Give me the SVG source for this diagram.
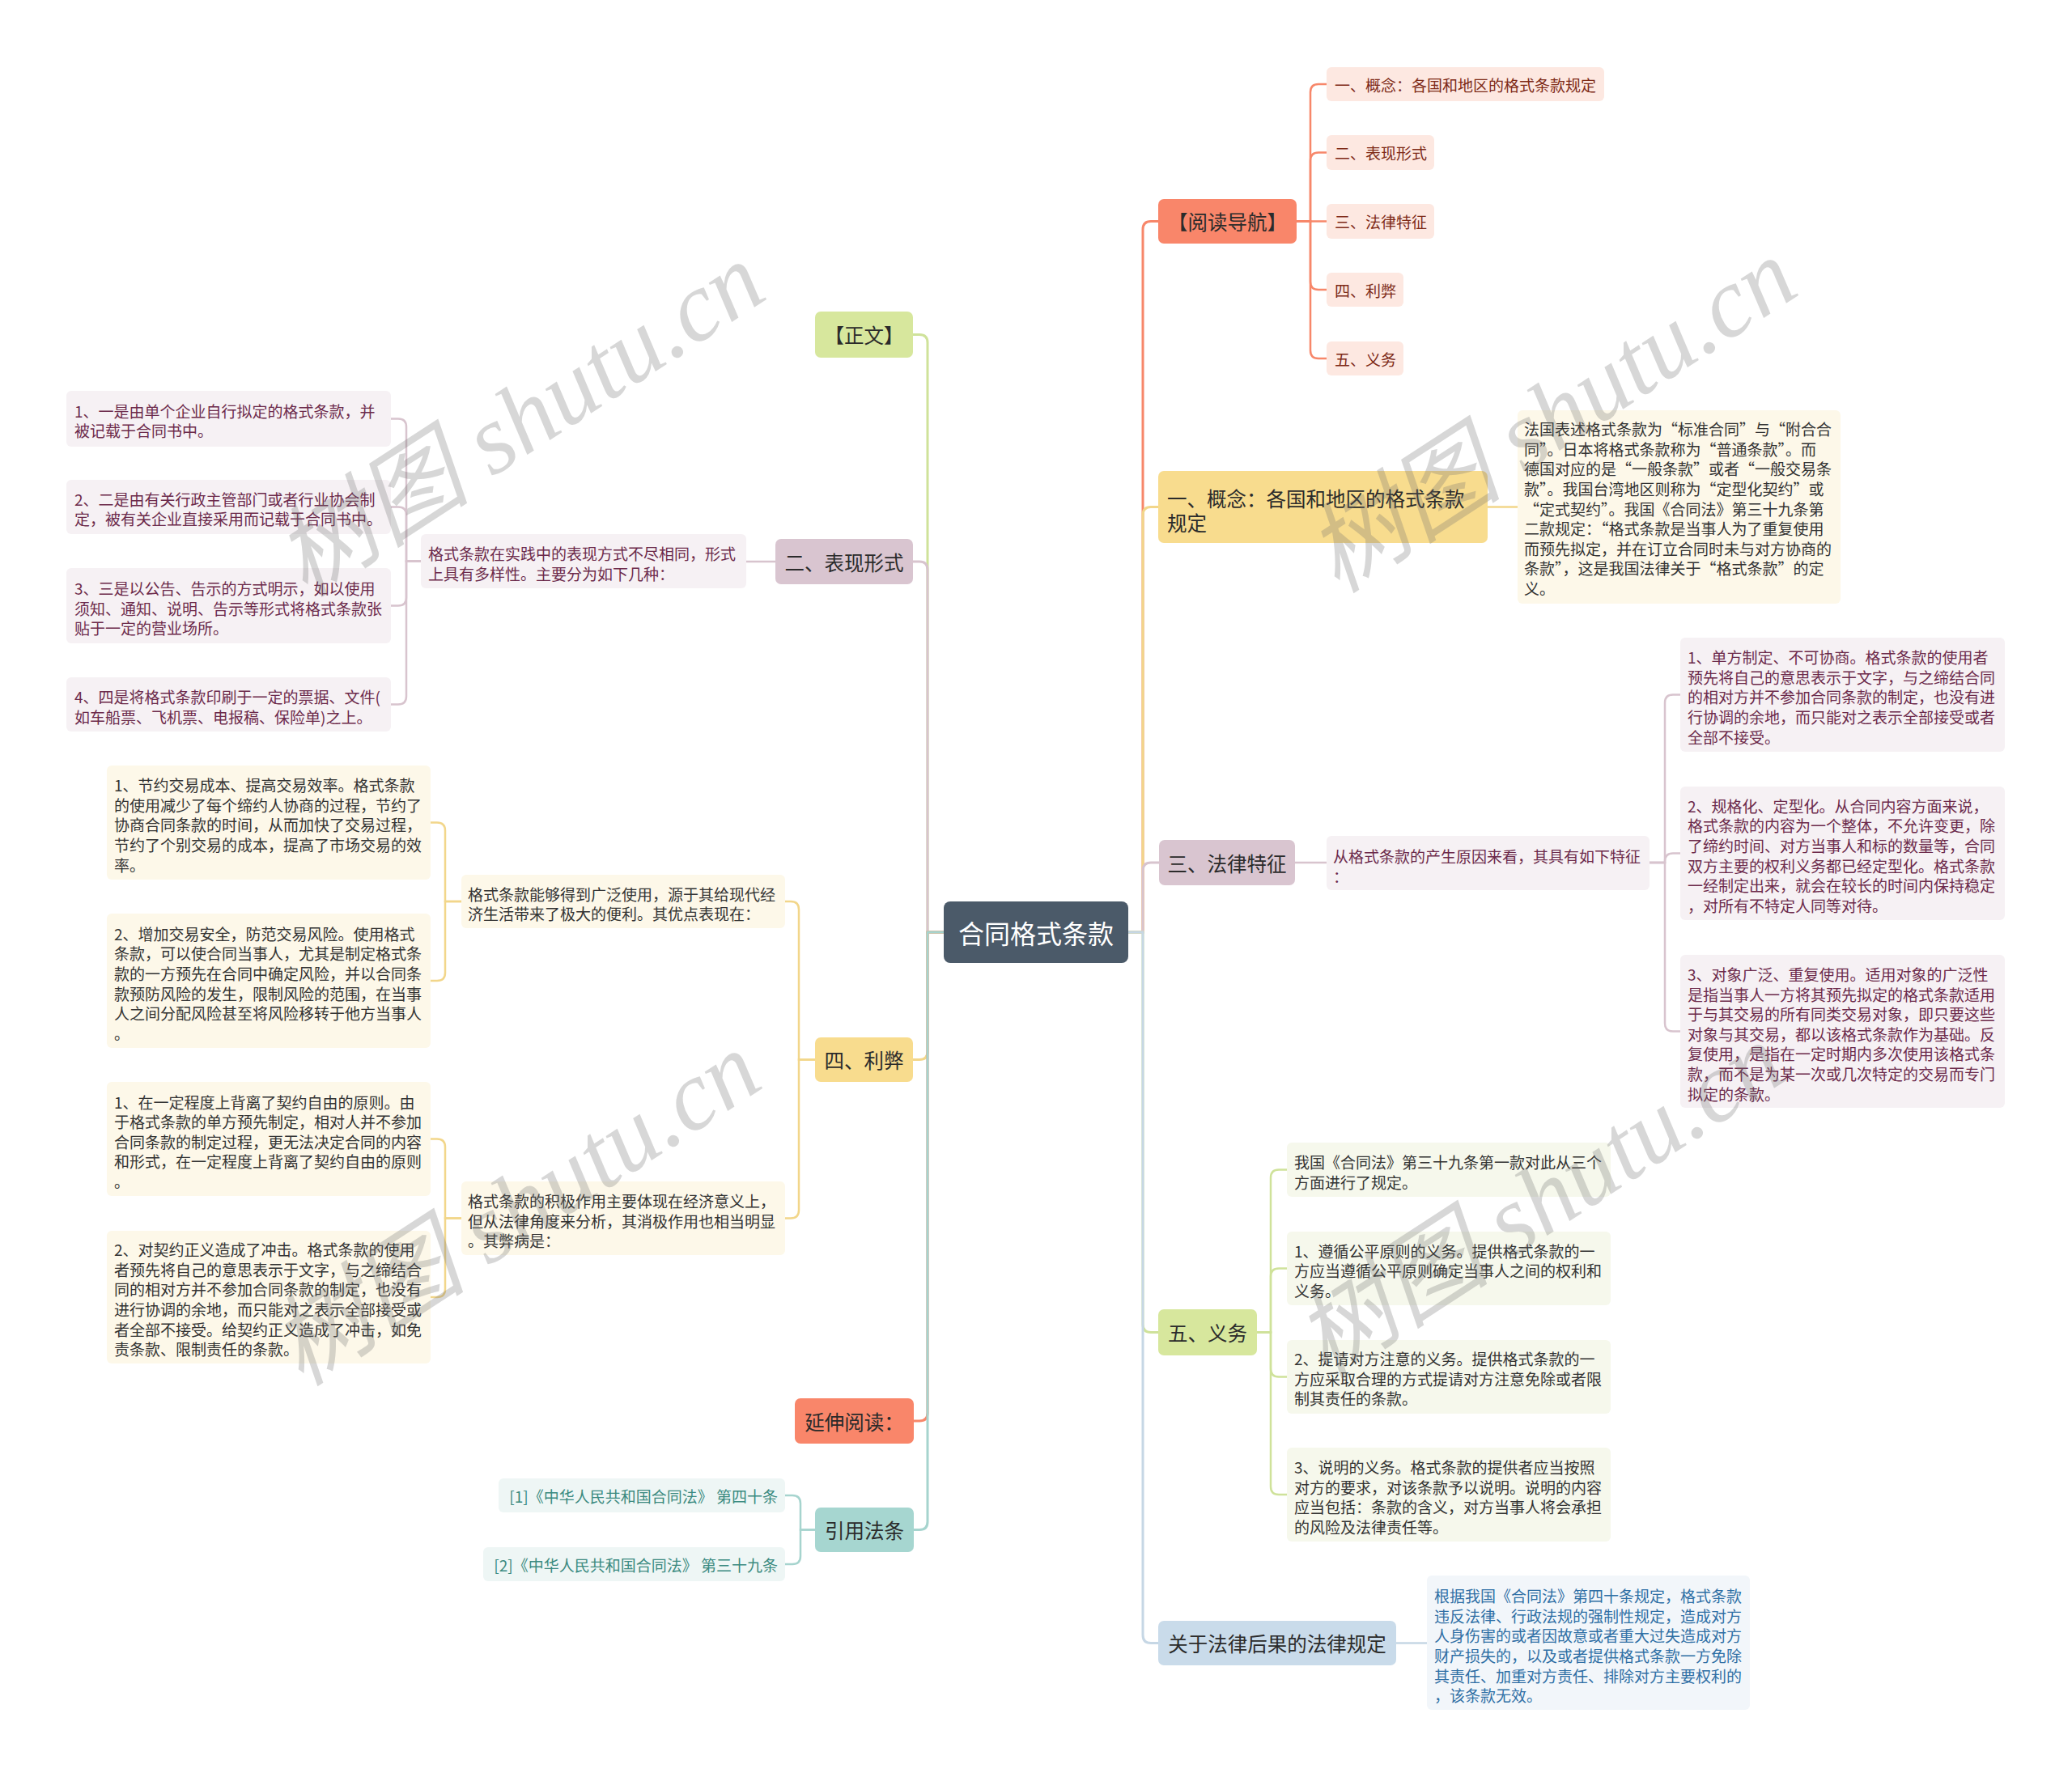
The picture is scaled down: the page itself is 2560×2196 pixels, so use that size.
<svg xmlns="http://www.w3.org/2000/svg" width="2560" height="2196" viewBox="0 0 2560 2196">
<style>
text{font-family:"Noto Sans CJK SC","Noto Sans",sans-serif;dominant-baseline:central}
.m{font-size:24.5px;fill:#2b2b2b}
.mc{text-anchor:middle}
.d{font-size:19px}
.c{font-size:32px;fill:#fff;text-anchor:middle}
.ln{fill:none;stroke-width:3}
.sl{fill:none;stroke-width:2.5}
.or{stroke:#f7876a}.ye{stroke:#f2d68a}.mv{stroke:#d8c4ce}.gr{stroke:#cfe29a}.bl{stroke:#c6d7e5}.tl{stroke:#a6d4ce}
.fOr{fill:#f9866a}.fOrL{fill:#fde8e1}.tOr{fill:#7e2a17}
.fYe{fill:#f8dc8e}.fYeL{fill:#fdf8e9}.tYe{fill:#333}
.fMv{fill:#d9c5d0}.fMvL{fill:#f6f1f4}.tMv{fill:#6c2a4b}
.fGr{fill:#d7e79d}.fGrL{fill:#f6f8ec}.tGr{fill:#333}
.fBl{fill:#c9dbea}.fBlL{fill:#f2f6fa}.tBl{fill:#2f6fa5}
.fTl{fill:#a6d6d0}.fTlL{fill:#eef6f5}.tTl{fill:#3b8a80}
.wm{font-family:"Liberation Serif","Noto Sans CJK SC",serif;font-style:italic;font-size:122px;fill:#6f6f6f;fill-opacity:0.28}
</style>
<rect width="2560" height="2196" fill="#ffffff"/>

<g id="connectors">
<path class="ln or" d="M1394,1152 H1412 V283.5 Q1412,273.5 1422,273.5 H1431"/>
<path class="ln ye" d="M1394,1152 H1412 V636.5 Q1412,626.5 1422,626.5 H1431"/>
<path class="ln mv" d="M1394,1152 H1412 V1076 Q1412,1066 1422,1066 H1432"/>
<path class="ln gr" d="M1394,1152 H1412 V1636.5 Q1412,1646.5 1422,1646.5 H1431"/>
<path class="ln bl" d="M1394,1152 H1412 V2020.5 Q1412,2030.5 1422,2030.5 H1431"/>
<path class="ln gr" d="M1166,1152 H1146 V423.5 Q1146,413.5 1136,413.5 H1128"/>
<path class="ln mv" d="M1166,1152 H1146 V704 Q1146,694 1136,694 H1128"/>
<path class="ln ye" d="M1166,1152 H1146 V1299.5 Q1146,1309.5 1136,1309.5 H1128"/>
<path class="ln or" d="M1166,1152 H1146 V1746 Q1146,1756 1136,1756 H1129"/>
<path class="ln tl" d="M1166,1152 H1146 V1880.5 Q1146,1890.5 1136,1890.5 H1129"/>
<path class="sl or" d="M1602,273.5 H1619 V114 Q1619,104 1629,104 H1639"/>
<path class="sl or" d="M1602,273.5 H1619 V198.5 Q1619,188.5 1629,188.5 H1639"/>
<path class="sl or" d="M1602,273.5 H1639"/>
<path class="sl or" d="M1602,273.5 H1619 V348 Q1619,358 1629,358 H1639"/>
<path class="sl or" d="M1602,273.5 H1619 V433 Q1619,443 1629,443 H1639"/>
<path class="sl ye" d="M1838,626.5 H1875"/>
<path class="sl mv" d="M1600,1066 H1639"/>
<path class="sl mv" d="M2038,1066 H2057 V868.5 Q2057,858.5 2067,858.5 H2076"/>
<path class="sl mv" d="M2038,1066 H2057 V1064.5 Q2057,1054.5 2067,1054.5 H2076"/>
<path class="sl mv" d="M2038,1066 H2057 V1264.5 Q2057,1274.5 2067,1274.5 H2076"/>
<path class="sl gr" d="M1553,1646.5 H1570 V1455.5 Q1570,1445.5 1580,1445.5 H1590"/>
<path class="sl gr" d="M1553,1646.5 H1570 V1577.5 Q1570,1567.5 1580,1567.5 H1590"/>
<path class="sl gr" d="M1553,1646.5 H1570 V1691.5 Q1570,1701.5 1580,1701.5 H1590"/>
<path class="sl gr" d="M1553,1646.5 H1570 V1837 Q1570,1847 1580,1847 H1590"/>
<path class="sl bl" d="M1725,2030.5 H1763"/>
<path class="sl mv" d="M958,694 H922"/>
<path class="sl mv" d="M520,693.5 H502 V527.5 Q502,517.5 492,517.5 H483"/>
<path class="sl mv" d="M520,693.5 H502 V636.5 Q502,626.5 492,626.5 H483"/>
<path class="sl mv" d="M520,693.5 H502 V738.5 Q502,748.5 492,748.5 H483"/>
<path class="sl mv" d="M520,693.5 H502 V860.5 Q502,870.5 492,870.5 H483"/>
<path class="sl ye" d="M1007,1309.5 H987 V1124 Q987,1114 977,1114 H970"/>
<path class="sl ye" d="M1007,1309.5 H987 V1495.5 Q987,1505.5 977,1505.5 H970"/>
<path class="sl ye" d="M570,1114 H550 V1026.5 Q550,1016.5 540,1016.5 H532"/>
<path class="sl ye" d="M570,1114 H550 V1202 Q550,1212 540,1212 H532"/>
<path class="sl ye" d="M570,1505.5 H550 V1417.5 Q550,1407.5 540,1407.5 H532"/>
<path class="sl ye" d="M570,1505.5 H550 V1593 Q550,1603 540,1603 H532"/>
<path class="sl tl" d="M1007,1890.5 H989 V1858 Q989,1848 979,1848 H970"/>
<path class="sl tl" d="M1007,1890.5 H989 V1923 Q989,1933 979,1933 H970"/>
</g>

<g id="center">
<rect x="1166" y="1114" width="228" height="76" rx="8" fill="#4b5a69"/>
<text class="c" x="1280" y="1152">合同格式条款</text>
</g>

<g id="nav">
<rect class="fOr" x="1431" y="246" width="171" height="55" rx="7"/>
<text class="m mc" x="1516.5" y="273.5">【阅读导航】</text>
</g>
<g id="nav1"><rect class="fOrL" x="1639" y="83" width="343" height="42" rx="6"/><text class="d tOr" x="1649" y="104">一、概念：各国和地区的格式条款规定</text></g>
<g id="nav2"><rect class="fOrL" x="1639" y="167" width="133" height="43" rx="6"/><text class="d tOr" x="1649" y="188.5">二、表现形式</text></g>
<g id="nav3"><rect class="fOrL" x="1639" y="252" width="133" height="43" rx="6"/><text class="d tOr" x="1649" y="273.5">三、法律特征</text></g>
<g id="nav4"><rect class="fOrL" x="1639" y="337" width="95" height="42" rx="6"/><text class="d tOr" x="1649" y="358">四、利弊</text></g>
<g id="nav5"><rect class="fOrL" x="1639" y="422" width="95" height="42" rx="6"/><text class="d tOr" x="1649" y="443">五、义务</text></g>

<g id="concept">
<rect class="fYe" x="1431" y="582" width="407" height="89" rx="7"/>
<text class="m" x="1442" y="615">一、概念：各国和地区的格式条款</text>
<text class="m" x="1442" y="645">规定</text>
</g>
<g id="concept-text">
<rect class="fYeL" x="1875" y="507" width="399" height="239" rx="6"/>
<text class="d tYe" x="1883" y="529">法国表述格式条款为“标准合同”与“附合合</text>
<text class="d tYe" x="1883" y="554">同”。日本将格式条款称为“普通条款”。而</text>
<text class="d tYe" x="1883" y="578">德国对应的是“一般条款”或者“一般交易条</text>
<text class="d tYe" x="1883" y="603">款”。我国台湾地区则称为“定型化契约”或</text>
<text class="d tYe" x="1883" y="628">“定式契约”。我国《合同法》第三十九条第</text>
<text class="d tYe" x="1883" y="652">二款规定：“格式条款是当事人为了重复使用</text>
<text class="d tYe" x="1883" y="677">而预先拟定，并在订立合同时未与对方协商的</text>
<text class="d tYe" x="1883" y="701">条款”，这是我国法律关于“格式条款”的定</text>
<text class="d tYe" x="1883" y="726">义。</text>
</g>

<g id="features">
<rect class="fMv" x="1432" y="1038" width="168" height="56" rx="7"/>
<text class="m mc" x="1516" y="1066">三、法律特征</text>
</g>
<g id="features-intro">
<rect class="fMvL" x="1639" y="1033" width="399" height="67" rx="6"/>
<text class="d tMv" x="1647" y="1057">从格式条款的产生原因来看，其具有如下特征</text>
<text class="d tMv" x="1647" y="1082">：</text>
</g>
<g id="feature1">
<rect class="fMvL" x="2076" y="788" width="401" height="141" rx="6"/>
<text class="d tMv" x="2085" y="811.5">1、单方制定、不可协商。格式条款的使用者</text>
<text class="d tMv" x="2085" y="836">预先将自己的意思表示于文字，与之缔结合同</text>
<text class="d tMv" x="2085" y="860.5">的相对方并不参加合同条款的制定，也没有进</text>
<text class="d tMv" x="2085" y="885">行协调的余地，而只能对之表示全部接受或者</text>
<text class="d tMv" x="2085" y="910">全部不接受。</text>
</g>
<g id="feature2">
<rect class="fMvL" x="2076" y="972" width="401" height="165" rx="6"/>
<text class="d tMv" x="2085" y="995">2、规格化、定型化。从合同内容方面来说，</text>
<text class="d tMv" x="2085" y="1019.5">格式条款的内容为一个整体，不允许变更，除</text>
<text class="d tMv" x="2085" y="1044">了缔约时间、对方当事人和标的数量等，合同</text>
<text class="d tMv" x="2085" y="1069">双方主要的权利义务都已经定型化。格式条款</text>
<text class="d tMv" x="2085" y="1093.5">一经制定出来，就会在较长的时间内保持稳定</text>
<text class="d tMv" x="2085" y="1118">，对所有不特定人同等对待。</text>
</g>
<g id="feature3">
<rect class="fMvL" x="2076" y="1180" width="401" height="189" rx="6"/>
<text class="d tMv" x="2085" y="1203">3、对象广泛、重复使用。适用对象的广泛性</text>
<text class="d tMv" x="2085" y="1228">是指当事人一方将其预先拟定的格式条款适用</text>
<text class="d tMv" x="2085" y="1252">于与其交易的所有同类交易对象，即只要这些</text>
<text class="d tMv" x="2085" y="1277">对象与其交易，都以该格式条款作为基础。反</text>
<text class="d tMv" x="2085" y="1301.5">复使用，是指在一定时期内多次使用该格式条</text>
<text class="d tMv" x="2085" y="1326">款，而不是为某一次或几次特定的交易而专门</text>
<text class="d tMv" x="2085" y="1351">拟定的条款。</text>
</g>

<g id="duties">
<rect class="fGr" x="1431" y="1618" width="122" height="57" rx="7"/>
<text class="m mc" x="1492" y="1646.5">五、义务</text>
</g>
<g id="duty0">
<rect class="fGrL" x="1590" y="1412" width="400" height="67" rx="6"/>
<text class="d tGr" x="1599" y="1435">我国《合同法》第三十九条第一款对此从三个</text>
<text class="d tGr" x="1599" y="1460">方面进行了规定。</text>
</g>
<g id="duty1">
<rect class="fGrL" x="1590" y="1522" width="400" height="91" rx="6"/>
<text class="d tGr" x="1599" y="1545">1、遵循公平原则的义务。提供格式条款的一</text>
<text class="d tGr" x="1599" y="1569.5">方应当遵循公平原则确定当事人之间的权利和</text>
<text class="d tGr" x="1599" y="1594">义务。</text>
</g>
<g id="duty2">
<rect class="fGrL" x="1590" y="1656" width="400" height="91" rx="6"/>
<text class="d tGr" x="1599" y="1678.5">2、提请对方注意的义务。提供格式条款的一</text>
<text class="d tGr" x="1599" y="1703">方应采取合理的方式提请对方注意免除或者限</text>
<text class="d tGr" x="1599" y="1727.5">制其责任的条款。</text>
</g>
<g id="duty3">
<rect class="fGrL" x="1590" y="1789" width="400" height="116" rx="6"/>
<text class="d tGr" x="1599" y="1812">3、说明的义务。格式条款的提供者应当按照</text>
<text class="d tGr" x="1599" y="1837">对方的要求，对该条款予以说明。说明的内容</text>
<text class="d tGr" x="1599" y="1861">应当包括：条款的含义，对方当事人将会承担</text>
<text class="d tGr" x="1599" y="1886">的风险及法律责任等。</text>
</g>

<g id="consequences">
<rect class="fBl" x="1431" y="2003" width="294" height="55" rx="7"/>
<text class="m mc" x="1578" y="2030.5">关于法律后果的法律规定</text>
</g>
<g id="consequences-text">
<rect class="fBlL" x="1763" y="1947" width="399" height="166" rx="6"/>
<text class="d tBl" x="1772" y="1971.5">根据我国《合同法》第四十条规定，格式条款</text>
<text class="d tBl" x="1772" y="1996">违反法律、行政法规的强制性规定，造成对方</text>
<text class="d tBl" x="1772" y="2020.5">人身伤害的或者因故意或者重大过失造成对方</text>
<text class="d tBl" x="1772" y="2045">财产损失的，以及或者提供格式条款一方免除</text>
<text class="d tBl" x="1772" y="2070">其责任、加重对方责任、排除对方主要权利的</text>
<text class="d tBl" x="1772" y="2094.5">，该条款无效。</text>
</g>

<g id="body">
<rect class="fGr" x="1007" y="385" width="121" height="57" rx="7"/>
<text class="m mc" x="1067.5" y="413.5">【正文】</text>
</g>

<g id="forms">
<rect class="fMv" x="958" y="666" width="170" height="56" rx="7"/>
<text class="m mc" x="1043" y="694">二、表现形式</text>
</g>
<g id="forms-intro">
<rect class="fMvL" x="520" y="660" width="402" height="67" rx="6"/>
<text class="d tMv" x="529" y="683">格式条款在实践中的表现方式不尽相同，形式</text>
<text class="d tMv" x="529" y="708">上具有多样性。主要分为如下几种：</text>
</g>
<g id="form1">
<rect class="fMvL" x="82" y="483" width="401" height="69" rx="6"/>
<text class="d tMv" x="92" y="507">1、一是由单个企业自行拟定的格式条款，并</text>
<text class="d tMv" x="92" y="531">被记载于合同书中。</text>
</g>
<g id="form2">
<rect class="fMvL" x="82" y="593" width="401" height="67" rx="6"/>
<text class="d tMv" x="92" y="616.5">2、二是由有关行政主管部门或者行业协会制</text>
<text class="d tMv" x="92" y="640.5">定，被有关企业直接采用而记载于合同书中。</text>
</g>
<g id="form3">
<rect class="fMvL" x="82" y="702" width="401" height="93" rx="6"/>
<text class="d tMv" x="92" y="726.5">3、三是以公告、告示的方式明示，如以使用</text>
<text class="d tMv" x="92" y="751">须知、通知、说明、告示等形式将格式条款张</text>
<text class="d tMv" x="92" y="775.5">贴于一定的营业场所。</text>
</g>
<g id="form4">
<rect class="fMvL" x="82" y="837" width="401" height="67" rx="6"/>
<text class="d tMv" x="92" y="860">4、四是将格式条款印刷于一定的票据、文件(</text>
<text class="d tMv" x="92" y="885">如车船票、飞机票、电报稿、保险单)之上。</text>
</g>

<g id="proscons">
<rect class="fYe" x="1007" y="1282" width="121" height="55" rx="7"/>
<text class="m mc" x="1067.5" y="1309.5">四、利弊</text>
</g>
<g id="pros">
<rect class="fYeL" x="570" y="1081" width="400" height="66" rx="6"/>
<text class="d tYe" x="578" y="1104">格式条款能够得到广泛使用，源于其给现代经</text>
<text class="d tYe" x="578" y="1128">济生活带来了极大的便利。其优点表现在：</text>
</g>
<g id="pro1">
<rect class="fYeL" x="132" y="946" width="400" height="141" rx="6"/>
<text class="d tYe" x="141" y="969">1、节约交易成本、提高交易效率。格式条款</text>
<text class="d tYe" x="141" y="994">的使用减少了每个缔约人协商的过程，节约了</text>
<text class="d tYe" x="141" y="1018.5">协商合同条款的时间，从而加快了交易过程，</text>
<text class="d tYe" x="141" y="1043">节约了个别交易的成本，提高了市场交易的效</text>
<text class="d tYe" x="141" y="1068">率。</text>
</g>
<g id="pro2">
<rect class="fYeL" x="132" y="1129" width="400" height="166" rx="6"/>
<text class="d tYe" x="141" y="1153">2、增加交易安全，防范交易风险。使用格式</text>
<text class="d tYe" x="141" y="1177.5">条款，可以使合同当事人，尤其是制定格式条</text>
<text class="d tYe" x="141" y="1202">款的一方预先在合同中确定风险，并以合同条</text>
<text class="d tYe" x="141" y="1227">款预防风险的发生，限制风险的范围，在当事</text>
<text class="d tYe" x="141" y="1251.5">人之间分配风险甚至将风险移转于他方当事人</text>
<text class="d tYe" x="141" y="1276">。</text>
</g>
<g id="cons">
<rect class="fYeL" x="570" y="1460" width="400" height="91" rx="6"/>
<text class="d tYe" x="578" y="1483.5">格式条款的积极作用主要体现在经济意义上，</text>
<text class="d tYe" x="578" y="1508">但从法律角度来分析，其消极作用也相当明显</text>
<text class="d tYe" x="578" y="1532.5">。其弊病是：</text>
</g>
<g id="con1">
<rect class="fYeL" x="132" y="1337" width="400" height="141" rx="6"/>
<text class="d tYe" x="141" y="1361">1、在一定程度上背离了契约自由的原则。由</text>
<text class="d tYe" x="141" y="1385">于格式条款的单方预先制定，相对人并不参加</text>
<text class="d tYe" x="141" y="1410">合同条款的制定过程，更无法决定合同的内容</text>
<text class="d tYe" x="141" y="1434.5">和形式，在一定程度上背离了契约自由的原则</text>
<text class="d tYe" x="141" y="1459">。</text>
</g>
<g id="con2">
<rect class="fYeL" x="132" y="1521" width="400" height="164" rx="6"/>
<text class="d tYe" x="141" y="1543.5">2、对契约正义造成了冲击。格式条款的使用</text>
<text class="d tYe" x="141" y="1568">者预先将自己的意思表示于文字，与之缔结合</text>
<text class="d tYe" x="141" y="1592.5">同的相对方并不参加合同条款的制定，也没有</text>
<text class="d tYe" x="141" y="1617">进行协调的余地，而只能对之表示全部接受或</text>
<text class="d tYe" x="141" y="1642">者全部不接受。给契约正义造成了冲击，如免</text>
<text class="d tYe" x="141" y="1666.5">责条款、限制责任的条款。</text>
</g>

<g id="further">
<rect class="fOr" x="982" y="1728" width="147" height="56" rx="7"/>
<text class="m mc" x="1055.5" y="1756">延伸阅读：</text>
</g>

<g id="citations">
<rect class="fTl" x="1007" y="1863" width="122" height="55" rx="7"/>
<text class="m mc" x="1068" y="1890.5">引用法条</text>
</g>
<g id="cite1">
<rect class="fTlL" x="616" y="1827" width="354" height="42" rx="6"/>
<text class="d tTl" x="961" y="1848" text-anchor="end">[1]《中华人民共和国合同法》 第四十条</text>
</g>
<g id="cite2">
<rect class="fTlL" x="597" y="1912" width="373" height="42" rx="6"/>
<text class="d tTl" x="961" y="1933" text-anchor="end">[2]《中华人民共和国合同法》 第三十九条</text>
</g>

<g id="watermarks">
<text class="wm" transform="translate(355,705) rotate(-33)">树图 shutu.cn</text>
<text class="wm" transform="translate(1630,700) rotate(-33)">树图 shutu.cn</text>
<text class="wm" transform="translate(350,1680) rotate(-33)">树图 shutu.cn</text>
<text class="wm" transform="translate(1615,1670) rotate(-33)">树图 shutu.cn</text>
</g>
</svg>
